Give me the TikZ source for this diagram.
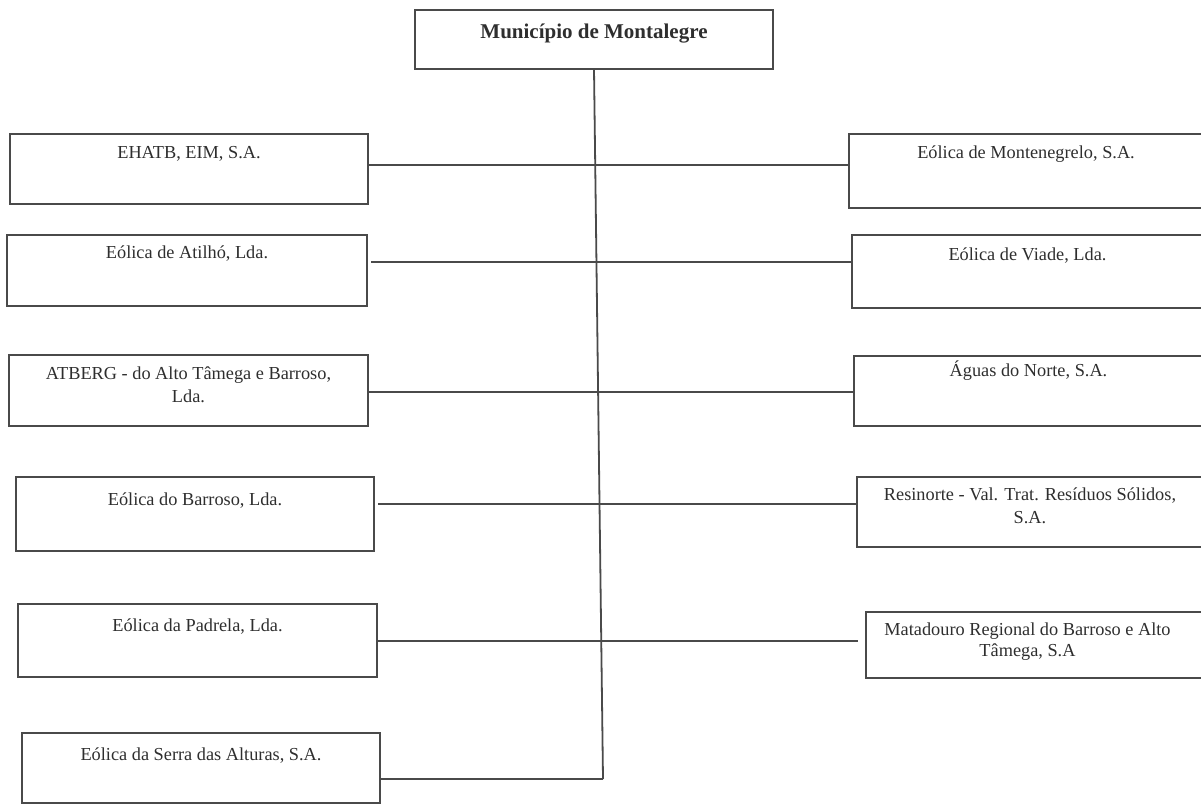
\documentclass[tikz,border=0pt]{standalone}
\usepackage{fontspec}
\setmainfont{Liberation Serif}
\definecolor{ln}{HTML}{4A4A4A}
\definecolor{tx}{HTML}{2E2E2E}
\begin{document}
\begin{tikzpicture}[x=1pt,y=-1pt,
  box/.style={draw=ln, line width=2pt, rectangle, inner sep=0pt, outer sep=0pt, anchor=north west},
  txt/.style={text=tx, inner sep=0pt, anchor=base, font=\fontsize{18.3}{23}\selectfont},
  ttl/.style={text=tx, inner sep=0pt, anchor=base, font=\fontsize{21}{25}\selectfont\bfseries},
  conn/.style={draw=ln, line width=1.8pt}]
\useasboundingbox (0,0) rectangle (1201,805);
\clip (0,0) rectangle (1201,805);

% top box
\node[box, minimum width=358pt, minimum height=59pt] (top) at (415,10) {};
\node[ttl] (topt) at ([yshift=-29pt]top.north) {Município de Montalegre};

% left boxes
\node[box, minimum width=358pt, minimum height=70pt] (L1) at (10,134) {};
\node[txt] (L1t) at ([yshift=-25pt]L1.north) {EHATB, EIM, S.A.};
\node[box, minimum width=360pt, minimum height=71pt] (L2) at (7,235) {};
\node[txt] (L2t) at ([yshift=-23pt]L2.north) {Eólica de Atilhó, Lda.};
\node[box, minimum width=359pt, minimum height=71pt] (L3) at (9,355) {};
\node[txt] (L3t) at ([yshift=-24pt]L3.north) {\begin{tabular}[t]{@{}c@{}}ATBERG - do Alto Tâmega e Barroso,\\Lda.\end{tabular}};
\node[box, minimum width=358pt, minimum height=74pt] (L4) at (16,477) {};
\node[txt] (L4t) at ([yshift=-28pt]L4.north) {Eólica do Barroso, Lda.};
\node[box, minimum width=359pt, minimum height=73pt] (L5) at (18,604) {};
\node[txt] (L5t) at ([yshift=-27pt]L5.north) {Eólica da Padrela, Lda.};
\node[box, minimum width=358pt, minimum height=70pt] (L6) at (22,733) {};
\node[txt] (L6t) at ([yshift=-27pt]L6.north) {Eólica da Serra das Alturas, S.A.};

% right boxes
\node[box, minimum width=354pt, minimum height=74pt] (R1) at (849,134) {};
\node[txt] (R1t) at ([yshift=-25pt]R1.north) {Eólica de Montenegrelo, S.A.};
\node[box, minimum width=351pt, minimum height=73pt] (R2) at (852,235) {};
\node[txt] (R2t) at ([yshift=-25pt]R2.north) {Eólica de Viade, Lda.};
\node[box, minimum width=349pt, minimum height=70pt] (R3) at (854,356) {};
\node[txt] (R3t) at ([yshift=-20pt]R3.north) {Águas do Norte, S.A.};
\node[box, minimum width=346pt, minimum height=70pt] (R4) at (857,477) {};
\node[txt] (R4t) at ([yshift=-23pt]R4.north) {\begin{tabular}[t]{@{}c@{}}Resinorte - Val. Trat. Resíduos Sólidos,\\S.A.\end{tabular}};
\node[box, minimum width=337pt, minimum height=66pt] (R5) at (866,612) {};
\node[txt] (R5t) at ([yshift=-23pt,xshift=-7pt]R5.north) {\begin{tabular}[t]{@{}c@{}}Matadouro Regional do Barroso e Alto\\[-2pt]Tâmega, S.A\end{tabular}};

% spine coordinates
\coordinate (h1) at (597,165);
\coordinate (h2) at (597,262);
\coordinate (h3) at (597,392);
\coordinate (h4) at (597,504);
\coordinate (h5) at (597,641);
\coordinate (sb) at (603,779);
\coordinate (a2) at ([xshift=4pt]L2.east);
\coordinate (a4) at ([xshift=4pt]L4.east);
\coordinate (b5) at ([xshift=-8pt]R5.west);

% connectors
\draw[conn] (top.south) -- (sb);
\draw[conn] (L1.east |- h1) -- (R1.west |- h1);
\draw[conn] (a2 |- h2) -- (R2.west |- h2);
\draw[conn] (L3.east |- h3) -- (R3.west |- h3);
\draw[conn] (a4 |- h4) -- (R4.west |- h4);
\draw[conn] (L5.east |- h5) -- (b5 |- h5);
\draw[conn] (L6.east |- sb) -- (sb);
\end{tikzpicture}
\end{document}
